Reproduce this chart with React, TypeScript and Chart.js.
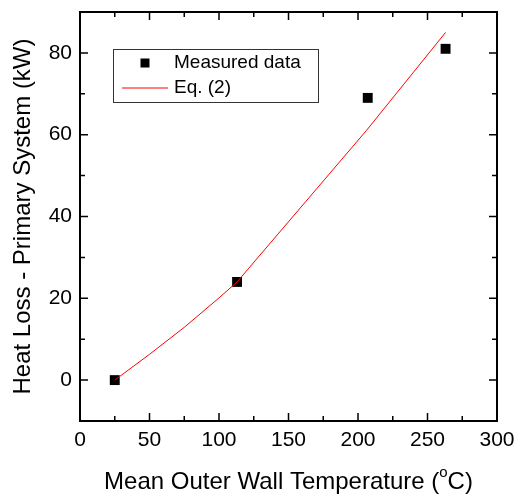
import React, { useEffect, useRef } from "react";
import { Chart, registerables } from "chart.js";

Chart.register(...registerables);

const measuredX = [25, 113, 207, 263];
const measuredY = [0, 24, 69, 81];
const eqX = [25, 50, 75, 100, 113, 206, 263];
const eqY = [0, 6.3, 12.9, 20.1, 24, 61, 85];
const xTicks = [0, 50, 100, 150, 200, 250, 300];
const yTicks = [0, 20, 40, 60, 80];
const xMinor = [25, 75, 125, 175, 225, 275];
const yMinor = [-10, 10, 30, 50, 70, 90];
const seriesNames = ["Measured data", "Eq. (2)"];
const xTitleParts = ["Mean Outer Wall Temperature (", "o", "C)"];
const yTitle = "Heat Loss - Primary System (kW)";

const FONT = "'Liberation Sans', Arial, sans-serif";

const framePlugin = {
  id: "frame",
  afterDraw(chart: any) {
    const { ctx, chartArea } = chart;
    const { left, right, top, bottom } = chartArea;
    const xs = chart.scales.x;
    const ys = chart.scales.y;
    ctx.save();
    ctx.strokeStyle = "#000";
    ctx.lineWidth = 2;
    ctx.strokeRect(left, top, right - left, bottom - top);
    ctx.lineWidth = 1.5;
    const major = 8;
    const minor = 5;
    const tickX = (v: number, len: number) => {
      const px = xs.getPixelForValue(v);
      ctx.beginPath();
      ctx.moveTo(px, bottom);
      ctx.lineTo(px, bottom - len);
      ctx.moveTo(px, top);
      ctx.lineTo(px, top + len);
      ctx.stroke();
    };
    const tickY = (v: number, len: number) => {
      const py = ys.getPixelForValue(v);
      ctx.beginPath();
      ctx.moveTo(left, py);
      ctx.lineTo(left + len, py);
      ctx.moveTo(right, py);
      ctx.lineTo(right - len, py);
      ctx.stroke();
    };
    xTicks.forEach((v) => tickX(v, major));
    xMinor.forEach((v) => tickX(v, minor));
    yTicks.forEach((v) => tickY(v, major));
    yMinor.forEach((v) => tickY(v, minor));

    // axis titles
    ctx.fillStyle = "#000";
    ctx.textBaseline = "middle";
    const tf = 24;
    const sf = Math.round(tf * 0.62);
    ctx.font = `${tf}px ${FONT}`;
    const w0 = ctx.measureText(xTitleParts[0]).width;
    ctx.font = `${sf}px ${FONT}`;
    const w1 = ctx.measureText(xTitleParts[1]).width;
    ctx.font = `${tf}px ${FONT}`;
    const w2 = ctx.measureText(xTitleParts[2]).width;
    const total = w0 + w1 + w2;
    const cx = (left + right) / 2;
    let sx = cx - total / 2;
    const ty = 482;
    ctx.textAlign = "left";
    ctx.fillText(xTitleParts[0], sx, ty);
    sx += w0;
    ctx.font = `${sf}px ${FONT}`;
    ctx.fillText(xTitleParts[1], sx, ty - 9);
    sx += w1;
    ctx.font = `${tf}px ${FONT}`;
    ctx.fillText(xTitleParts[2], sx, ty);

    ctx.save();
    ctx.translate(23, (top + bottom) / 2);
    ctx.rotate(-Math.PI / 2);
    ctx.textAlign = "center";
    ctx.fillText(yTitle, 0, 0);
    ctx.restore();

    // legend
    const lx = 113, ly = 49, lw = 205, lh = 53;
    ctx.lineWidth = 1;
    ctx.strokeStyle = "#333";
    ctx.strokeRect(lx + 0.5, ly + 0.5, lw, lh);
    ctx.fillStyle = "#000";
    ctx.fillRect(145 - 4.5, 63 - 4.5, 9, 9);
    ctx.strokeStyle = "#ff0000";
    ctx.lineWidth = 1;
    ctx.beginPath();
    ctx.moveTo(122, 88);
    ctx.lineTo(168, 88);
    ctx.stroke();
    ctx.fillStyle = "#000";
    ctx.font = `19px ${FONT}`;
    ctx.textAlign = "left";
    ctx.fillText(seriesNames[0], 174, 63);
    ctx.fillText(seriesNames[1], 174, 88);
    ctx.restore();
  },
};

export default function App() {
  const ref = useRef<HTMLCanvasElement>(null);
  useEffect(() => {
    const chart = new Chart(ref.current as HTMLCanvasElement, {
      type: "scatter",
      data: {
        datasets: [
          {
            label: seriesNames[1],
            data: eqX.map((x, i) => ({ x, y: eqY[i] })),
            showLine: true,
            borderColor: "#ff0000",
            borderWidth: 1,
            pointRadius: 0,
            tension: 0,
          },
          {
            label: seriesNames[0],
            data: measuredX.map((x, i) => ({ x, y: measuredY[i] })),
            showLine: false,
            pointStyle: "rect",
            pointRadius: 7,
            pointBackgroundColor: "#000",
            pointBorderColor: "#000",
            pointBorderWidth: 0,
          },
        ],
      },
      options: {
        animation: false,
        responsive: false,
        maintainAspectRatio: false,
        layout: { padding: { left: 0, top: 12, right: 21, bottom: 0 } },
        plugins: { legend: { display: false }, tooltip: { enabled: false } },
        scales: {
          x: {
            type: "linear",
            min: 0,
            max: 300,
            grid: { display: false, drawTicks: false },
            border: { display: false },
            afterBuildTicks: (s: any) => {
              s.ticks = xTicks.map((v) => ({ value: v }));
            },
            afterFit: (s: any) => {
              s.height = 77;
              s.paddingLeft = 0;
              s.paddingRight = 0;
            },
            ticks: {
              color: "#000",
              font: { family: FONT, size: 21 },
              padding: 7,
              maxRotation: 0,
            },
          },
          y: {
            type: "linear",
            min: -10,
            max: 90,
            grid: { display: false, drawTicks: false },
            border: { display: false },
            afterBuildTicks: (s: any) => {
              s.ticks = yTicks.map((v) => ({ value: v }));
            },
            afterFit: (s: any) => {
              s.width = 80;
              s.paddingTop = 0;
              s.paddingBottom = 0;
            },
            ticks: {
              color: "#000",
              font: { family: FONT, size: 21 },
              padding: 8,
            },
          },
        },
      },
      plugins: [framePlugin],
    } as any);
    return () => chart.destroy();
  }, []);
  return (
    <div style={{ position: "absolute", left: 0, top: 0, width: 518, height: 498 }}>
      <canvas ref={ref} width={518} height={498} style={{ width: 518, height: 498 }} />
    </div>
  );
}
